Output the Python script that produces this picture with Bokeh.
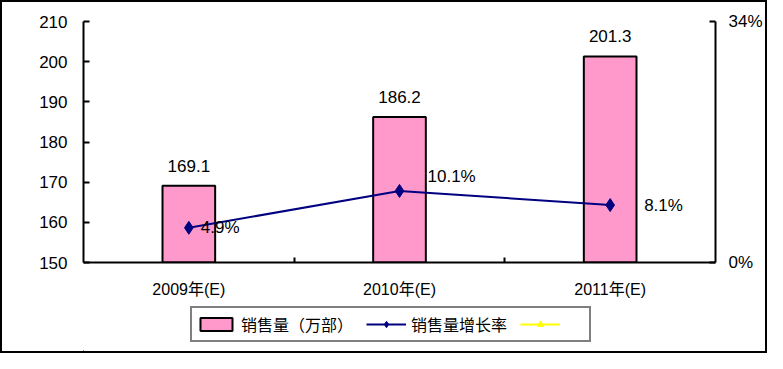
from bokeh.plotting import figure
from bokeh.layouts import column
from bokeh.models import (ColumnDataSource, Range1d, LinearAxis, FixedTicker,
                          PrintfTickFormatter, Legend, LegendItem)
from bokeh.core.properties import value
from bokeh.embed import file_html
from bokeh.resources import INLINE

# ---- data ----
categories = ["2009年(E)", "2010年(E)", "2011年(E)"]
sales = [169.1, 186.2, 201.3]          # 销售量（万部）
growth = [4.9, 10.1, 8.1]              # 销售量增长率 (%)
third_series = [float("nan")] * 3      # empty yellow series shown only in legend
left_ticks = [150, 160, 170, 180, 190, 200, 210]
right_ticks = [0, 34]
sales_name = "销售量（万部）"
growth_name = "销售量增长率"

LATIN = "'Liberation Sans', Arial, 'Noto Sans CJK SC'"
CJK = "'Noto Sans CJK SC'"
PINK = "#FF99CC"
NAVY = "#000080"
YELLOW = "#FFFF00"

n = len(categories)
xc = [i + 0.5 for i in range(n)]

bar_src = ColumnDataSource(dict(x=xc, top=sales, lab=[f"{v:.1f}" for v in sales]))
gr_src = ColumnDataSource(dict(x=xc, y=growth, lab=[f"{g:.1f}%" for g in growth],
                               xo=[12, 28, 34], yo=[0, -14, 0]))
third_src = ColumnDataSource(dict(x=xc, y=third_series))

W = 763
p = figure(width=W, height=302, output_backend="svg", toolbar_location=None,
           x_range=Range1d(0, n), y_range=Range1d(left_ticks[0], left_ticks[-1]),
           min_border_left=81, min_border_right=45, min_border_top=19,
           min_border_bottom=42)
p.extra_y_ranges = {"pct": Range1d(right_ticks[0], right_ticks[-1])}
p.outline_line_color = None
p.xgrid.visible = False
p.ygrid.visible = False
p.background_fill_color = "white"
p.border_fill_color = "white"

p.vbar(x="x", top="top", bottom=left_ticks[0], width=0.25, source=bar_src,
       fill_color=PINK, line_color="black", line_width=2)
p.text(x="x", y="top", text="lab", source=bar_src, text_align="center",
       text_baseline="middle", y_offset=-20, text_font_size="17px",
       text_font=value(LATIN), text_color="black")

p.line(x="x", y="y", source=gr_src, y_range_name="pct",
       line_color=NAVY, line_width=2)
p.scatter(x="x", y="y", source=gr_src, y_range_name="pct", marker="diamond",
          size=13, fill_color=NAVY, line_color=NAVY)
p.text(x="x", y="y", text="lab", source=gr_src, y_range_name="pct",
       x_offset="xo", y_offset="yo", text_align="left", text_baseline="middle",
       text_font_size="17px", text_font=value(LATIN), text_color="black")

p.line(x="x", y="y", source=third_src, y_range_name="pct", line_color=YELLOW, line_width=2)

# axes
xa = p.xaxis[0]
xa.ticker = FixedTicker(ticks=xc, minor_ticks=list(range(1, n)))
xa.major_label_overrides = {x: c for x, c in zip(xc, categories)}
xa.major_tick_in = 0
xa.major_tick_out = 0
xa.minor_tick_in = 5
xa.minor_tick_out = 0
xa.minor_tick_line_width = 2
xa.axis_line_width = 2
xa.major_label_standoff = 18
xa.major_label_text_font_size = "16px"
xa.major_label_text_font = LATIN
xa.major_label_text_color = "black"

ya = p.yaxis[0]
ya.ticker = FixedTicker(ticks=left_ticks)
ya.major_tick_in = 6
ya.major_tick_out = 0
ya.major_tick_line_width = 2
ya.minor_tick_line_color = None
ya.axis_line_width = 2
ya.major_label_standoff = 16
ya.major_label_text_font_size = "17px"
ya.major_label_text_font = LATIN
ya.major_label_text_color = "black"

ra = LinearAxis(y_range_name="pct", ticker=FixedTicker(ticks=right_ticks),
                formatter=PrintfTickFormatter(format="%d%%"))
ra.major_tick_in = 6
ra.major_tick_out = 0
ra.major_tick_line_width = 2
ra.minor_tick_line_color = None
ra.axis_line_width = 2
ra.major_label_standoff = 13
ra.major_label_text_font_size = "17px"
ra.major_label_text_font = LATIN
ra.major_label_text_color = "black"
p.add_layout(ra, "right")

# ---- legend strip (its glyphs lie far outside its visible range) ----
lf = figure(width=W, height=47, output_backend="svg", toolbar_location=None,
            x_range=Range1d(1e6, 1e6 + 1), y_range=Range1d(1e6, 1e6 + 1),
            x_axis_location=None, y_axis_location=None,
            min_border_left=0, min_border_right=0, min_border_top=0, min_border_bottom=0)
lf.outline_line_color = None
lf.xgrid.visible = False
lf.ygrid.visible = False
lf.background_fill_color = "white"
lf.border_fill_color = "white"

l_bar = lf.vbar(x="x", top="top", bottom=left_ticks[0], width=0.25, source=bar_src,
                fill_color=PINK, line_color="black", line_width=2)
l_line = lf.line(x="x", y="y", source=gr_src, line_color=NAVY, line_width=2)
l_pts = lf.scatter(x="x", y="y", source=gr_src, marker="diamond", size=11,
                   fill_color=NAVY, line_color=NAVY)
l_yl = lf.line(x="x", y="y", source=third_src, line_color=YELLOW, line_width=2)
l_yt = lf.scatter(x="x", y="y", source=third_src, marker="triangle", size=10,
                  fill_color=YELLOW, line_color=YELLOW)

legend = Legend(items=[LegendItem(label=sales_name, renderers=[l_bar]),
                       LegendItem(label=growth_name, renderers=[l_line, l_pts]),
                       LegendItem(label=" ", renderers=[l_yl, l_yt])],
                orientation="horizontal", location=(107, 9))
legend.border_line_color = "black"
legend.border_line_width = 2
legend.label_text_font = CJK
legend.label_text_font_size = "16px"
legend.label_text_color = "black"
legend.glyph_width = 40
legend.glyph_height = 16
legend.padding = 4
legend.spacing = 13
legend.label_standoff = 5
legend.margin = 0
legend.background_fill_color = "white"
lf.add_layout(legend, "center")

layout = column(p, lf, spacing=0, styles={"border": "2px solid black"})

open("out.html", "w").write(file_html(layout, INLINE))
